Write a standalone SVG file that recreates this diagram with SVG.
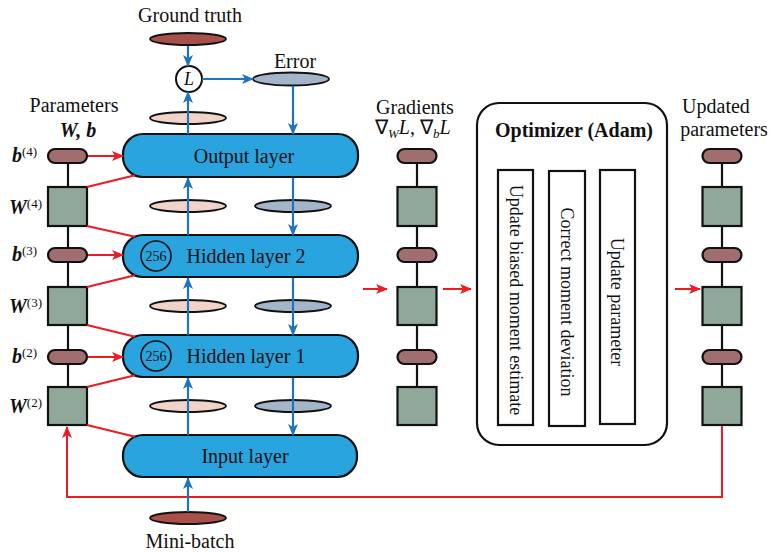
<svg xmlns="http://www.w3.org/2000/svg" width="771" height="553" viewBox="0 0 771 553">
<defs>
<marker id="ab" markerUnits="userSpaceOnUse" markerWidth="12" markerHeight="12" viewBox="0 0 12 12" refX="11" refY="6" orient="auto"><path d="M0,1 L12,6 L0,11 L3,6 z" fill="#1f74bf"/></marker>
<marker id="ar" markerUnits="userSpaceOnUse" markerWidth="12" markerHeight="12" viewBox="0 0 12 12" refX="11" refY="6" orient="auto"><path d="M0,1 L12,6 L0,11 L3,6 z" fill="#ec1c24"/></marker>
</defs>
<style>
text{font-family:"Liberation Serif","Times New Roman",serif;fill:#111}
.t20{font-size:20px}
.t18{font-size:18px}
.mid{text-anchor:middle}
.layer{fill:#29a4de;stroke:#111;stroke-width:2.2}
.pill{fill:#a06e6e;stroke:#111;stroke-width:2.2}
.sq{fill:#8fa89a;stroke:#111;stroke-width:2.2}
.gt{fill:#a8514a;stroke:#111;stroke-width:1.8}
.pk{fill:#f1d4c9;stroke:#111;stroke-width:1.8}
.gy{fill:#a3b5c8;stroke:#111;stroke-width:1.8}
.blk{stroke:#111;stroke-width:2.2;fill:none}
.blue{stroke:#1f74bf;stroke-width:2.2;fill:none;marker-end:url(#ab)}
.red{stroke:#ec1c24;stroke-width:2;fill:none}
.reda{stroke:#ec1c24;stroke-width:2;fill:none;marker-end:url(#ar)}
.box{fill:#fff;stroke:#111;stroke-width:2.2}
.sup{font-size:13px}
.bi{font-weight:bold;font-style:italic}
</style>

<!-- titles -->
<text class="t20 mid" x="190" y="22">Ground truth</text>
<text class="t20 mid" x="295" y="68">Error</text>
<text class="t20 mid" x="190" y="548">Mini-batch</text>
<text class="t20 mid" x="74" y="112">Parameters</text>
<text class="t20 mid bi" x="78" y="137">W, b</text>
<text class="t20 mid" x="415" y="114">Gradients</text>
<text class="t20" x="375" y="134">∇<tspan class="sup" font-style="italic" dy="4">W</tspan><tspan font-style="italic" dy="-4">L</tspan>, ∇<tspan class="sup" font-style="italic" dy="4">b</tspan><tspan font-style="italic" dy="-4">L</tspan></text>
<text class="t20 mid" x="716" y="113">Updated</text>
<text class="t20 mid" x="724" y="136">parameters</text>

<!-- parameter labels -->
<text class="t20" x="12" y="162"><tspan class="bi">b</tspan><tspan class="sup" dy="-6">(4)</tspan></text>
<text class="t20" x="9" y="214"><tspan class="bi">W</tspan><tspan class="sup" dy="-6">(4)</tspan></text>
<text class="t20" x="12" y="261"><tspan class="bi">b</tspan><tspan class="sup" dy="-6">(3)</tspan></text>
<text class="t20" x="9" y="313"><tspan class="bi">W</tspan><tspan class="sup" dy="-6">(3)</tspan></text>
<text class="t20" x="12" y="363"><tspan class="bi">b</tspan><tspan class="sup" dy="-6">(2)</tspan></text>
<text class="t20" x="9" y="413"><tspan class="bi">W</tspan><tspan class="sup" dy="-6">(2)</tspan></text>

<!-- parameter column -->
<g id="params">
<line class="blk" x1="68" y1="162" x2="68" y2="387"/>
<rect class="pill" x="48" y="149" width="39" height="14" rx="7"/>
<rect class="sq" x="48" y="187" width="39" height="39"/>
<rect class="pill" x="48" y="248" width="39" height="14" rx="7"/>
<rect class="sq" x="48" y="287" width="39" height="38"/>
<rect class="pill" x="48" y="350" width="39" height="14" rx="7"/>
<rect class="sq" x="48" y="387" width="39" height="38"/>
</g>

<g id="gradients">
<line class="blk" x1="417" y1="162" x2="417" y2="387"/>
<rect class="pill" x="397.5" y="149" width="39" height="14" rx="7"/>
<rect class="sq" x="397.5" y="187" width="39" height="39"/>
<rect class="pill" x="397.5" y="248" width="39" height="14" rx="7"/>
<rect class="sq" x="397.5" y="287" width="39" height="38"/>
<rect class="pill" x="397.5" y="350" width="39" height="14" rx="7"/>
<rect class="sq" x="397.5" y="387" width="39" height="38"/>
</g>

<g id="updated">
<line class="blk" x1="722" y1="162" x2="722" y2="387"/>
<rect class="pill" x="702.5" y="149" width="39" height="14" rx="7"/>
<rect class="sq" x="702.5" y="187" width="39" height="39"/>
<rect class="pill" x="702.5" y="248" width="39" height="14" rx="7"/>
<rect class="sq" x="702.5" y="287" width="39" height="38"/>
<rect class="pill" x="702.5" y="350" width="39" height="14" rx="7"/>
<rect class="sq" x="702.5" y="387" width="39" height="38"/>
</g>

<!-- ellipses -->
<g id="ground-truth"><ellipse class="gt" cx="188" cy="39" rx="38" ry="6"/></g>
<g id="mini-batch"><ellipse class="gt" cx="188" cy="518" rx="38" ry="6"/></g>
<g id="error"><ellipse class="gy" cx="291" cy="79" rx="38" ry="6.5"/></g>
<g id="activations">
<ellipse class="pk" cx="188" cy="118" rx="38" ry="6"/>
<ellipse class="pk" cx="188" cy="206" rx="38" ry="6"/>
<ellipse class="pk" cx="188" cy="306" rx="38" ry="6"/>
<ellipse class="pk" cx="188" cy="406" rx="38" ry="6"/>
</g>
<g id="errors">
<ellipse class="gy" cx="293" cy="206" rx="38" ry="6"/>
<ellipse class="gy" cx="293" cy="306" rx="38" ry="6"/>
<ellipse class="gy" cx="293" cy="406" rx="38" ry="6"/>
</g>
<g id="loss">
<circle cx="189" cy="79" r="13" fill="#fff" stroke="#111" stroke-width="2"/>
<text class="t18 mid" x="189" y="85" font-style="italic">L</text>
</g>

<!-- layers -->
<g id="output-layer">
<rect class="layer" x="123" y="134" width="235" height="43" rx="20"/>
<text class="t20 mid" x="244" y="163">Output layer</text>
</g>
<g id="hidden-layer-2">
<rect class="layer" x="123" y="235" width="235" height="42" rx="20"/>
<circle cx="156" cy="256" r="15" fill="none" stroke="#111" stroke-width="1.6"/>
<text class="mid" x="156" y="261" font-size="14">256</text>
<text class="t20 mid" x="246" y="263">Hidden layer 2</text>
</g>
<g id="hidden-layer-1">
<rect class="layer" x="123" y="335" width="235" height="42" rx="20"/>
<circle cx="156" cy="356" r="15" fill="none" stroke="#111" stroke-width="1.6"/>
<text class="mid" x="156" y="361" font-size="14">256</text>
<text class="t20 mid" x="246" y="363">Hidden layer 1</text>
</g>
<g id="input-layer">
<rect class="layer" x="123" y="435" width="234" height="42" rx="20"/>
<text class="t20 mid" x="245" y="463">Input layer</text>
</g>

<!-- optimizer -->
<g id="optimizer">
<rect class="box" x="477" y="103" width="190" height="342" rx="22"/>
<text class="t20 mid" x="574" y="137" font-weight="bold">Optimizer (Adam)</text>
<rect class="box" x="498" y="170" width="35" height="255"/>
<rect class="box" x="549" y="171" width="36" height="255"/>
<rect class="box" x="600" y="170" width="35" height="254"/>
<text class="t18 mid" transform="translate(510,300) rotate(90)">Update biased moment estimate</text>
<text class="t18 mid" transform="translate(561,302) rotate(90)">Correct moment deviation</text>
<text class="t18 mid" transform="translate(611,302) rotate(90)">Update parameter</text>
</g>

<!-- connectors -->
<g id="connectors">
<line class="red" x1="87" y1="187" x2="135" y2="175.3"/>
<line class="red" x1="87" y1="226" x2="135" y2="236.7"/>
<line class="red" x1="87" y1="287" x2="135" y2="275.3"/>
<line class="red" x1="87" y1="325" x2="135" y2="336.7"/>
<line class="red" x1="87" y1="387" x2="135" y2="375.3"/>
<line class="red" x1="87" y1="425" x2="135" y2="436.7"/>
<line class="reda" x1="88" y1="156" x2="123" y2="156"/>
<line class="reda" x1="88" y1="255" x2="123" y2="255"/>
<line class="reda" x1="88" y1="357" x2="123" y2="357"/>
<line class="reda" x1="363" y1="289" x2="387" y2="289"/>
<line class="reda" x1="443" y1="289" x2="471" y2="289"/>
<line class="reda" x1="675" y1="289" x2="700" y2="289"/>
<path class="reda" d="M722,426 V497 H67 V427"/>

<line class="blue" x1="188" y1="46" x2="188" y2="66"/>
<line class="blue" x1="188" y1="134" x2="188" y2="92"/>
<line class="blue" x1="202" y1="79" x2="253" y2="79"/>
<line class="blue" x1="293" y1="86" x2="293" y2="134"/>
<line class="blue" x1="188" y1="235" x2="188" y2="178"/>
<line class="blue" x1="293" y1="178" x2="293" y2="235"/>
<line class="blue" x1="188" y1="335" x2="188" y2="278"/>
<line class="blue" x1="293" y1="278" x2="293" y2="335"/>
<line class="blue" x1="188" y1="435" x2="188" y2="378"/>
<line class="blue" x1="293" y1="378" x2="293" y2="435"/>
<line class="blue" x1="188" y1="512" x2="188" y2="478"/>
</g>
</svg>
